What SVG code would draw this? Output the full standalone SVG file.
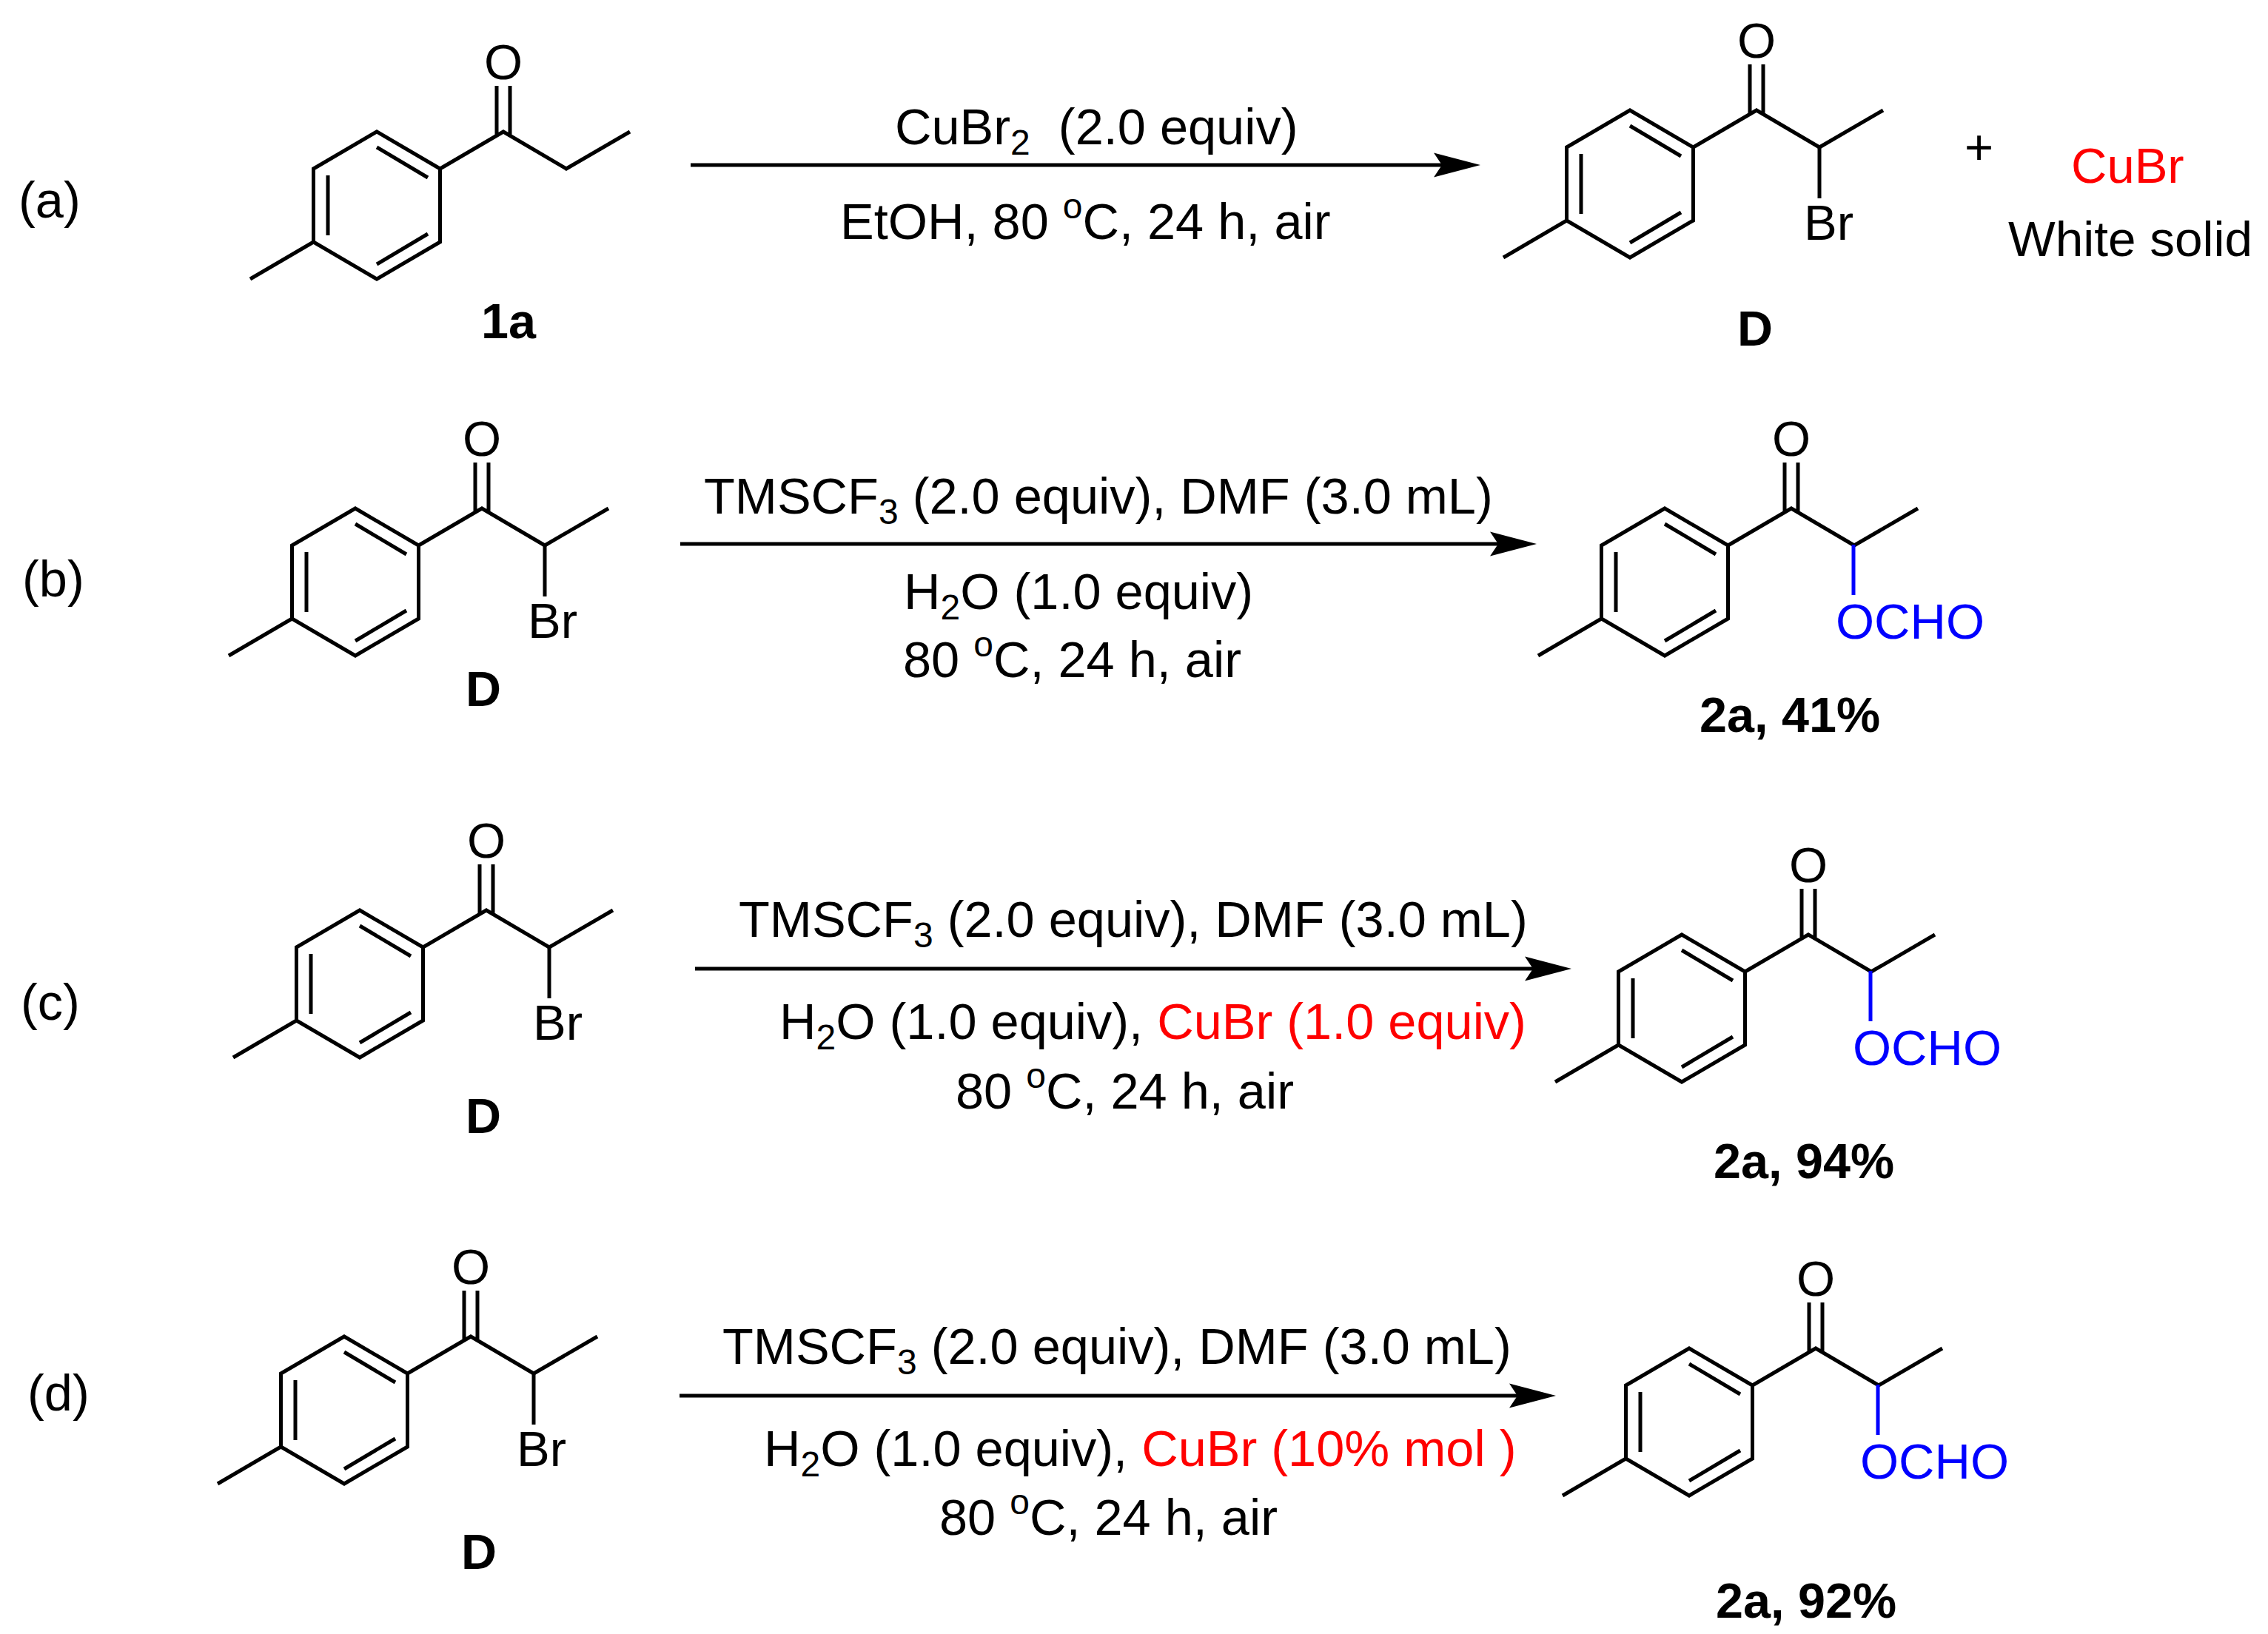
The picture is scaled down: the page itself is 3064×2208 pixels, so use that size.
<svg xmlns="http://www.w3.org/2000/svg" width="3064" height="2208" viewBox="0 0 3064 2208">
<style>
text{font-family:"Liberation Sans",Arial,Helvetica,sans-serif;font-size:67px;fill:#000;white-space:pre}
.c{font-size:68.500px}
.b{font-weight:bold;font-size:66.500px}
.m{text-anchor:middle}
.r{fill:#f00}
.bl{fill:#00f}
.s{font-size:48px}
.bond{fill:none;stroke:#000;stroke-width:5;stroke-linecap:butt;stroke-linejoin:miter}
.blue{fill:none;stroke:#00f;stroke-width:5}
.arrow{stroke:#000;stroke-width:5;fill:none;marker-end:url(#head)}
</style>
<defs>
<marker id="head" markerUnits="userSpaceOnUse" markerWidth="70" markerHeight="40" refX="43" refY="20" orient="auto">
<path d="M0 3.5L63 20L0 36.500L11 20Z" fill="#000"/>
</marker>
<g id="core">
<path class="bond" d="M0 0L85.500 50L85.500 149L0 199L-85.500 149L-85.500 50Z"/>
<path class="bond" d="M-171 199L-85.500 149M85.500 50L171 0L256 50L342 0M162 -62V5M180 -62V5M0 21L69 62M-66 59V140M0 179L69 138"/>
</g>
</defs>
<rect width="3064" height="2208" fill="#fff"/>

<g id="connectors">
<line class="arrow" x1="933" y1="223" x2="1980" y2="223"/>
<line class="arrow" x1="919" y1="735" x2="2056" y2="735"/>
<line class="arrow" x1="939" y1="1309" x2="2103" y2="1309"/>
<line class="arrow" x1="918" y1="1886" x2="2082" y2="1886"/>
</g>

<g id="scheme-a">
<text x="25" y="294" class="c">(a)</text>
<g id="mol-1a" transform="translate(509 178)"><use href="#core"/><text class="m" x="171" y="-71">O</text></g>
<text id="label-1a" class="b" x="650" y="457">1a</text>
<text id="cond-a1" class="c" x="1209" y="195">CuBr<tspan class="s" dy="14">2</tspan><tspan dy="-14">  (2.0 equiv)</tspan></text>
<text id="cond-a2" class="c" x="1135" y="323">EtOH, 80 <tspan class="s" dy="-28">o</tspan><tspan dy="28">C, 24 h, air</tspan></text>
<g id="mol-Da" transform="translate(2202 149)"><use href="#core"/><path class="bond" d="M256 50V119"/><text class="m" x="171" y="-71">O</text><text x="235" y="175">Br</text></g>
<text id="label-Da" class="b" x="2347" y="467">D</text>
<text id="plus" x="2654" y="222">+</text>
<text id="cubr" class="r" x="2798" y="247">CuBr</text>
<text id="white-solid" x="2713" y="346" style="font-size:67.500px">White solid</text>
</g>

<g id="scheme-b">
<text x="30" y="806" class="c">(b)</text>
<g id="mol-Db" transform="translate(480 687)"><use href="#core"/><path class="bond" d="M256 50V119"/><text class="m" x="171" y="-71">O</text><text x="233" y="175">Br</text></g>
<text id="label-Db" class="b" x="629" y="954">D</text>
<text id="cond-b1" class="c" x="951" y="694">TMSCF<tspan class="s" dy="14">3</tspan><tspan dy="-14"> (2.0 equiv), DMF (3.0 mL)</tspan></text>
<text id="cond-b2" class="c" x="1221" y="823">H<tspan class="s" dy="14">2</tspan><tspan dy="-14">O (1.0 equiv)</tspan></text>
<text id="cond-b3" class="c" x="1220" y="915">80 <tspan class="s" dy="-28">o</tspan><tspan dy="28">C, 24 h, air</tspan></text>
<g id="mol-2a-b" transform="translate(2249 687)"><use href="#core"/><path class="blue" d="M255 49V117"/><text class="m" x="171" y="-71">O</text><text class="bl" x="231" y="176">OCHO</text></g>
<text id="label-2a-b" class="b" x="2296" y="989">2a, 41%</text>
</g>

<g id="scheme-c">
<text x="28" y="1378" class="c">(c)</text>
<g id="mol-Dc" transform="translate(486 1230)"><use href="#core"/><path class="bond" d="M256 50V119"/><text class="m" x="171" y="-71">O</text><text x="234" y="175">Br</text></g>
<text id="label-Dc" class="b" x="629" y="1531">D</text>
<text id="cond-c1" class="c" x="998" y="1266">TMSCF<tspan class="s" dy="14">3</tspan><tspan dy="-14"> (2.0 equiv), DMF (3.0 mL)</tspan></text>
<text id="cond-c2" class="c" x="1053" y="1404">H<tspan class="s" dy="14">2</tspan><tspan dy="-14">O (1.0 equiv), </tspan><tspan class="r">CuBr (1.0 equiv)</tspan></text>
<text id="cond-c3" class="c" x="1291" y="1498">80 <tspan class="s" dy="-28">o</tspan><tspan dy="28">C, 24 h, air</tspan></text>
<g id="mol-2a-c" transform="translate(2272 1263)"><use href="#core"/><path class="blue" d="M255 49V117"/><text class="m" x="171" y="-71">O</text><text class="bl" x="231" y="176">OCHO</text></g>
<text id="label-2a-c" class="b" x="2315" y="1592">2a, 94%</text>
</g>

<g id="scheme-d">
<text x="37" y="1906" class="c">(d)</text>
<g id="mol-Dd" transform="translate(465 1806)"><use href="#core"/><path class="bond" d="M256 50V119"/><text class="m" x="171" y="-71">O</text><text x="233" y="175">Br</text></g>
<text id="label-Dd" class="b" x="623" y="2120">D</text>
<text id="cond-d1" class="c" x="976" y="1843">TMSCF<tspan class="s" dy="14">3</tspan><tspan dy="-14"> (2.0 equiv), DMF (3.0 mL)</tspan></text>
<text id="cond-d2" class="c" x="1032" y="1981">H<tspan class="s" dy="14">2</tspan><tspan dy="-14">O (1.0 equiv), </tspan><tspan class="r">CuBr (10% mol )</tspan></text>
<text id="cond-d3" class="c" x="1269" y="2074">80 <tspan class="s" dy="-28">o</tspan><tspan dy="28">C, 24 h, air</tspan></text>
<g id="mol-2a-d" transform="translate(2282 1822)"><use href="#core"/><path class="blue" d="M255 49V117"/><text class="m" x="171" y="-71">O</text><text class="bl" x="231" y="176">OCHO</text></g>
<text id="label-2a-d" class="b" x="2318" y="2186">2a, 92%</text>
</g>
</svg>
